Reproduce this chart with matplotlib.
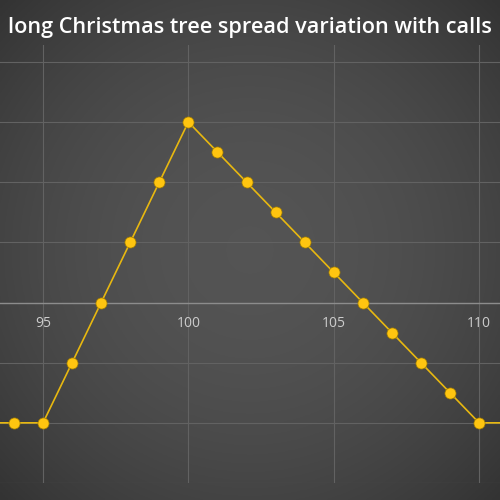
import numpy as np
from matplotlib import pyplot as plt

# payoff of the spread at each underlying price
prices = [93, 94, 95, 96, 97, 98, 99, 100, 101, 102, 103, 104, 105, 106, 107, 108, 109, 110, 111]
payoff = [-2, -2, -2, -1, 0, 1, 2, 3, 2.5, 2, 1.5, 1, 0.5, 0, -0.5, -1, -1.5, -2, -2]
xticks = [95, 100, 105, 110]
title = "long Christmas tree spread variation with calls"

fig = plt.figure(figsize=(5, 5), dpi=100)

# radial gradient background, lighter in the middle
bg = fig.add_axes([0, 0, 1, 1], zorder=0)
yy, xx = np.mgrid[-1:1:300j, -1:1:300j]
r2 = (xx**2 + yy**2) / 2
shade = np.clip(0.33 - 0.13 * r2, 0, 1)
bg.imshow(np.dstack([shade] * 3), extent=[0, 1, 0, 1], aspect='auto')
bg.set_axis_off()

ax = fig.add_axes([0, 0.034, 1, 0.876], zorder=1)
ax.patch.set_alpha(0)
ax.set_xlim(93.52, 110.72)
ax.set_ylim(-3, 4.28)

ax.plot(prices, payoff, color='#e8b810', lw=1.2, zorder=3)
ax.plot(prices, payoff, 'o', ms=8, color='#ffc510', mec='#a07c00', mew=0.5, zorder=4)

ax.set_xticks(xticks)
ax.set_yticks([-3, -2, -1, 0, 1, 2, 3, 4])
ax.set_yticklabels([])
ax.grid(color='#626262', lw=0.8)
ax.set_axisbelow(True)

for s in ['top', 'right', 'left']:
    ax.spines[s].set_visible(False)
ax.spines['bottom'].set_position(('data', 0))
ax.spines['bottom'].set_color('#8c8c8c')
ax.spines['bottom'].set_linewidth(1.0)
ax.tick_params(axis='x', length=0, pad=10, labelsize=10, labelcolor='#cccccc')
ax.tick_params(axis='y', length=0)
for lbl in ax.get_xticklabels():
    lbl.set_fontfamily('Open Sans')

fig.text(0.5, 0.944, title, ha='center', va='center', color='white',
         fontsize=15.6, fontweight='semibold', family='Open Sans')

plt.savefig('out.png', dpi=100)
